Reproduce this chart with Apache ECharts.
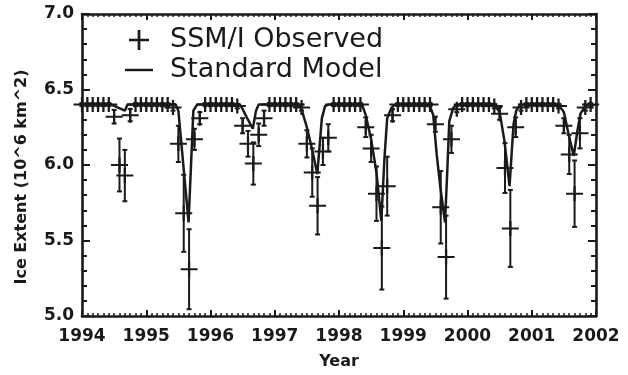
<!DOCTYPE html>
<html>
<head>
<meta charset="utf-8">
<script src="https://cdn.jsdelivr.net/npm/echarts/dist/echarts.min.js"></script>
<style>
html,body{margin:0;padding:0;background:#fff;}
#chart{width:628px;height:375px;}
</style>
</head>
<body>
<div id="chart"></div>
<script>
// ---- data ----
const startYear = 1994;
const yearTicks = [1994, 1995, 1996, 1997, 1998, 1999, 2000, 2001, 2002];
const extentTicks = [5.0, 5.5, 6.0, 6.5, 7.0];

// SSM/I observed monthly ice extent (10^6 km^2), Jan 1994 .. Dec 2001
const observedValues = [
  6.40,6.40,6.40,6.40,6.40,6.40,6.32,6.00,5.93,6.33,6.40,6.40, // 1994
  6.40,6.40,6.40,6.40,6.40,6.38,6.14,5.68,5.31,6.17,6.31,6.40, // 1995
  6.40,6.40,6.40,6.40,6.40,6.39,6.26,6.14,6.01,6.20,6.31,6.40, // 1996
  6.40,6.40,6.40,6.40,6.40,6.38,6.14,5.95,5.73,6.09,6.18,6.40, // 1997
  6.40,6.40,6.40,6.40,6.40,6.25,6.11,5.81,5.45,5.86,6.33,6.40, // 1998
  6.40,6.40,6.40,6.40,6.40,6.40,6.27,5.72,5.39,6.17,6.37,6.40, // 1999
  6.40,6.40,6.40,6.40,6.40,6.39,6.34,5.98,5.58,6.25,6.38,6.40, // 2000
  6.40,6.40,6.40,6.40,6.40,6.39,6.26,6.07,5.81,6.21,6.38,6.40  // 2001
];
// half-length of the error bars
const observedErrors = [
  .01,.01,.01,.01,.01,.01,.045,.175,.17,.04,.01,.01,
  .01,.01,.01,.01,.01,.02,.12,.255,.265,.07,.04,.01,
  .01,.01,.01,.01,.01,.015,.05,.085,.14,.075,.05,.01,
  .01,.01,.01,.01,.01,.02,.09,.16,.19,.09,.09,.01,
  .01,.01,.01,.01,.01,.065,.09,.18,.275,.195,.04,.01,
  .01,.01,.01,.01,.01,.01,.05,.24,.275,.09,.02,.01,
  .01,.01,.01,.01,.01,.015,.04,.165,.255,.065,.02,.01,
  .01,.01,.01,.01,.01,.015,.05,.13,.22,.10,.02,.01
];

// Standard model curve: months since Jan 1994 and values
const modelMonths = [
  0, 5.5, 8, 8.5,
  17.5, 18, 19.9, 20.8, 21.5,
  29.5, 30, 31, 31.9, 32.5, 33,
  40.5, 41, 42, 43, 43.95, 44.8, 45.4, 46,
  52.3, 53, 54, 55, 55.9, 56.5, 57, 57.8, 58.5,
  65, 65.6, 66.25, 66.9, 67.8, 68.2, 68.6, 69.35, 70,
  77, 78, 78.9, 79.85, 80.6, 81.1, 81.7, 82.5,
  89, 90, 90.9, 91.85, 92.5, 93.1, 94, 94.5, 95
];
const modelValues = [
  6.40, 6.40, 6.36, 6.40,
  6.40, 6.36, 5.62, 6.36, 6.40,
  6.40, 6.37, 6.30, 6.24, 6.36, 6.40,
  6.40, 6.37, 6.25, 6.10, 5.94, 6.31, 6.39, 6.40,
  6.40, 6.33, 6.17, 5.95, 5.63, 6.05, 6.31, 6.38, 6.40,
  6.39, 6.33, 6.07, 5.86, 5.62, 5.94, 6.29, 6.38, 6.40,
  6.40, 6.35, 6.16, 5.86, 6.27, 6.36, 6.39, 6.40,
  6.40, 6.35, 6.20, 6.06, 6.22, 6.34, 6.39, 6.40, 6.40
];

// ---- build series data ----
const obsPoints = observedValues.map((v, i) => [startYear + i / 12, v]);
const errPoints = observedValues.map((v, i) => [startYear + i / 12, v - observedErrors[i], v + observedErrors[i]]);
const modelPoints = modelMonths.map((m, i) => [startYear + m / 12, modelValues[i]]);

const INK = '#1a1a1a';
const FONT = 'DejaVu Sans';
const plusPath = 'path://M7.8,0h2.4v7.8h7.8v2.4h-7.8v7.8h-2.4v-7.8h-7.8v-2.4h7.8z';
const dashPath = 'path://M0,0h30v2.6h-30z';

const chart = echarts.init(document.getElementById('chart'), null, {renderer: 'canvas'});

const baseX = {
  type: 'value', min: yearTicks[0], max: yearTicks[yearTicks.length - 1], interval: 1,
  axisLine: {show: true, onZero: false, lineStyle: {color: INK, width: 2.6}},
  axisTick: {show: true, inside: true, length: 6, lineStyle: {color: INK, width: 2}},
  minorTick: {show: true, splitNumber: 12, length: 3, lineStyle: {color: INK, width: 1.5}},
  splitLine: {show: false}
};
const baseY = {
  type: 'value', min: extentTicks[0], max: extentTicks[extentTicks.length - 1], interval: 0.5,
  axisLine: {show: true, onZero: false, lineStyle: {color: INK, width: 2.6}},
  axisTick: {show: true, inside: true, length: 8, lineStyle: {color: INK, width: 2}},
  minorTick: {show: true, splitNumber: 5, length: 5, lineStyle: {color: INK, width: 2}},
  splitLine: {show: false}
};

chart.setOption({
  animation: false,
  backgroundColor: '#ffffff',
  grid: {left: 82, right: 32, top: 14, bottom: 53, containLabel: false},
  legend: {
    data: [
      {name: 'SSM/I Observed', icon: plusPath},
      {name: 'Standard Model', icon: dashPath}
    ],
    orient: 'vertical', left: 120, top: 21,
    itemWidth: 28, itemHeight: 20, itemGap: 2,
    formatter: '{t|{name}}',
    itemStyle: {color: INK},
    textStyle: {
      color: INK, fontFamily: FONT, fontSize: 27, lineHeight: 28,
      rich: {t: {fontFamily: FONT, fontSize: 27, color: INK, padding: [0, 0, 0, 12]}}
    }
  },
  xAxis: [
    Object.assign({}, baseX, {
      position: 'bottom',
      name: 'Year', nameLocation: 'middle', nameGap: 38,
      nameTextStyle: {color: INK, fontFamily: FONT, fontWeight: 'bold', fontSize: 16},
      axisLabel: {show: true, margin: 12, color: INK, fontFamily: FONT, fontWeight: 'bold', fontSize: 17,
        formatter: v => String(v)}
    }),
    Object.assign({}, baseX, {position: 'top', axisLabel: {show: false}})
  ],
  yAxis: [
    Object.assign({}, baseY, {
      position: 'left',
      axisLabel: {show: true, margin: 8, color: INK, fontFamily: FONT, fontWeight: 'bold', fontSize: 17,
        formatter: v => v.toFixed(1)}
    }),
    Object.assign({}, baseY, {position: 'right', axisLabel: {show: false}})
  ],
  graphic: [{
    type: 'text', x: 22, y: 177, rotation: Math.PI / 2,
    style: {text: 'Ice Extent (10^6 km^2)', fill: INK, font: 'bold 16px "DejaVu Sans"',
      textAlign: 'center', textVerticalAlign: 'middle'}
  }],
  series: [
    {
      name: 'Error bars', type: 'custom', xAxisIndex: 0, yAxisIndex: 0,
      data: errPoints, encode: {x: 0, y: [1, 2]}, silent: true, z: 3,
      renderItem: function (params, api) {
        const x = api.value(0);
        const lo = api.coord([x, api.value(1)]);
        const hi = api.coord([x, api.value(2)]);
        const c = 2.5;
        const st = {stroke: INK, lineWidth: 2};
        return {type: 'group', children: [
          {type: 'line', shape: {x1: lo[0], y1: lo[1], x2: hi[0], y2: hi[1]}, style: st},
          {type: 'line', shape: {x1: lo[0] - c, y1: lo[1], x2: lo[0] + c, y2: lo[1]}, style: st},
          {type: 'line', shape: {x1: hi[0] - c, y1: hi[1], x2: hi[0] + c, y2: hi[1]}, style: st}
        ]};
      }
    },
    {
      name: 'SSM/I Observed', type: 'scatter', data: obsPoints, z: 4,
      symbol: plusPath, symbolSize: [17, 15],
      itemStyle: {color: INK, opacity: 1},
      emphasis: {disabled: true}
    },
    {
      name: 'Standard Model', type: 'line', data: modelPoints, z: 5,
      showSymbol: false, symbol: 'none', smooth: false,
      lineStyle: {color: INK, width: 2.5},
      itemStyle: {color: INK}
    }
  ]
});
</script>
</body>
</html>
